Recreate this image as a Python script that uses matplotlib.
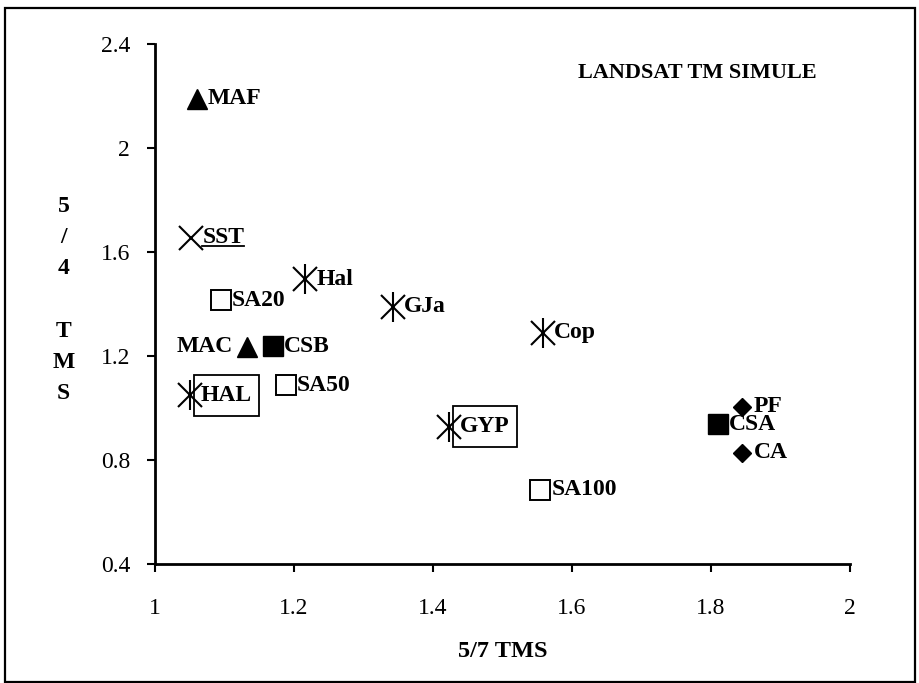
import matplotlib
matplotlib.use("Agg")
import matplotlib.pyplot as plt
from matplotlib.patches import Rectangle
from matplotlib.lines import Line2D

plt.rcParams['font.family'] = ['Liberation Serif', 'DejaVu Serif']

# points, grouped by marker type
tri_x = [1.06, 1.132]
tri_y = [2.19, 1.235]
tri_lab = ['MAF', 'MAC']

opensq_x = [1.095, 1.188, 1.554]
opensq_y = [1.415, 1.088, 0.685]
opensq_lab = ['SA20', 'SA50', 'SA100']

fillsq_x = [1.17, 1.81]
fillsq_y = [1.238, 0.938]
fillsq_lab = ['CSB', 'CSA']

diam_x = [1.845, 1.845]
diam_y = [1.004, 0.827]
diam_lab = ['PF', 'CA']

cross_x = [1.052]
cross_y = [1.654]
cross_lab = ['SST']

ast_x = [1.05, 1.216, 1.342, 1.423, 1.558]
ast_y = [1.05, 1.496, 1.39, 0.927, 1.29]
ast_lab = ['HAL', 'Hal', 'GJa', 'GYP', 'Cop']

xticks = [1, 1.2, 1.4, 1.6, 1.8, 2]
xtick_labels = ['1', '1.2', '1.4', '1.6', '1.8', '2']
yticks = [0.4, 0.8, 1.2, 1.6, 2.0, 2.4]
ytick_labels = ['0.4', '0.8', '1.2', '1.6', '2', '2.4']

fig = plt.figure(figsize=(9.19, 6.83), dpi=100)
ax = fig.add_axes([0.1687, 0.1742, 0.7563, 0.7614])

# markers
ax.plot(tri_x, tri_y, '^', color='black', ms=15, ls='none')
ax.plot(opensq_x, opensq_y, 's', mfc='white', mec='black', mew=1.4, ms=15, ls='none')
ax.plot(fillsq_x, fillsq_y, 's', color='black', ms=15, ls='none')
ax.plot(diam_x, diam_y, 'D', color='black', ms=9, ls='none')
ax.plot(cross_x, cross_y, 'x', color='black', ms=17, mew=1.5, ls='none')
ax.plot(ast_x, ast_y, 'x', color='black', ms=17, mew=1.5, ls='none')
ax.plot(ast_x, ast_y, '|', color='black', ms=22, mew=1.5, ls='none')

lab_font = dict(fontsize=17, fontweight='bold', va='center')
boxed = ['HAL', 'GYP']
box_texts = []
sst_text = None
for xs, ys, labs in [(tri_x, tri_y, tri_lab), (opensq_x, opensq_y, opensq_lab),
                     (fillsq_x, fillsq_y, fillsq_lab), (diam_x, diam_y, diam_lab),
                     (cross_x, cross_y, cross_lab), (ast_x, ast_y, ast_lab)]:
    for x, y, lab in zip(xs, ys, labs):
        if lab == 'MAC':
            ax.annotate(lab, (x, y), xytext=(-10, 0), textcoords='offset points',
                        ha='right', **lab_font)
            continue
        t = ax.annotate(lab, (x, y), xytext=(8, 0), textcoords='offset points',
                        ha='left', **lab_font)
        if lab in boxed:
            box_texts.append(t)
        if lab == 'SST':
            sst_text = t

ax.text(0.78, 0.944, 'LANDSAT TM SIMULE', transform=ax.transAxes, ha='center',
        va='center', fontsize=16, fontweight='bold')

ax.set_xlim(1, 2)
ax.set_ylim(0.4, 2.4)
ax.set_xticks(xticks)
ax.set_xticklabels(xtick_labels)
ax.set_yticks(yticks)
ax.set_yticklabels(ytick_labels)
ax.tick_params(axis='both', direction='out', length=6, width=1.5, labelsize=17)
ax.tick_params(axis='x', pad=18.5)
ax.tick_params(axis='y', pad=12)
for s in ['top', 'right']:
    ax.spines[s].set_visible(False)
for s in ['left', 'bottom']:
    ax.spines[s].set_linewidth(2)

fig.text(0.547, 0.046, '5/7 TMS', ha='center', va='center', fontsize=17.5, fontweight='bold')
fig.text(0.069, 0.561, '5\n/\n4\n\nT\nM\nS', ha='center', va='center', fontsize=17,
         fontweight='bold', linespacing=1.64)

# outer frame
fig.patches.append(Rectangle((5 / 919, 1 / 683), 910 / 919, 674 / 683, transform=fig.transFigure,
                             fill=False, ec='black', lw=1.6))

# boxes around HAL / GYP labels and underline under SST
fig.canvas.draw()
inv = fig.transFigure.inverted()
for t in box_texts:
    bb = t.get_window_extent()
    (bx0, by0), (bx1, by1) = inv.transform([(bb.x0 - 7, bb.y0 - 10), (bb.x1 + 7, bb.y1 + 10)])
    fig.patches.append(Rectangle((bx0, by0), bx1 - bx0, by1 - by0, transform=fig.transFigure,
                                 fill=False, ec='black', lw=1.3))
bb = sst_text.get_window_extent()
(x0, y0), (x1, _) = inv.transform([(bb.x0, bb.y0 + 2), (bb.x1, bb.y0 + 2)])
fig.lines.append(Line2D([x0, x1], [y0, y0], transform=fig.transFigure, color='black', lw=1.3))

fig.savefig('out.png', dpi=100)
